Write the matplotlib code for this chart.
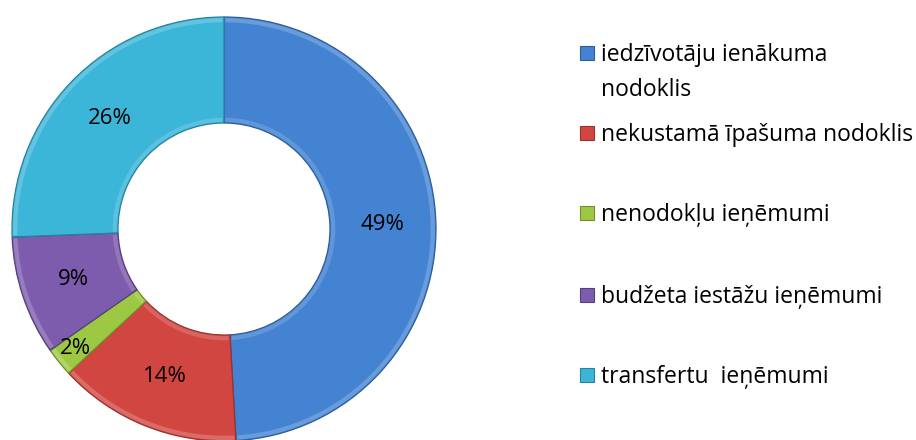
import numpy as np
import matplotlib.pyplot as plt
from matplotlib.patches import Rectangle, Wedge
from matplotlib.colors import to_rgb

plt.rcParams['font.family'] = ['Open Sans', 'DejaVu Sans']

labels = ['iedzīvotāju ienākuma\nnodoklis', 'nekustamā īpašuma nodoklis',
          'nenodokļu ieņēmumi', 'budžeta iestāžu ieņēmumi', 'transfertu  ieņēmumi']
shares = [49.1, 14.0, 2.2, 9.1, 25.6]
colors = ['#4383d2', '#d24641', '#9dc843', '#7d5cad', '#3bb5d8']
edges = ['#2e5d99', '#963330', '#6e8f2c', '#56407a', '#27819c']


def lighter(c, k=0.25):
    r = np.array(to_rgb(c))
    return tuple(r + (1 - r) * k)


fig = plt.figure(figsize=(9.16, 4.4), dpi=100)

# donut, centre at (224, 229) px, outer radius 212 px
ax = fig.add_axes([12 / 916, (440 - 229 - 212) / 440, 424 / 916, 424 / 440])
wedges, texts, autotexts = ax.pie(
    shares, colors=colors, startangle=90, counterclock=False, radius=1,
    autopct='%.0f%%', pctdistance=0.75,
    wedgeprops=dict(width=0.5, linewidth=0.9),
    textprops=dict(fontsize=16, color='black'))
for w, c, e in zip(wedges, colors, edges):
    w.set_edgecolor(e)
    # soft bevel: lighter bands along the outer and inner rim
    ax.add_patch(Wedge((0, 0), 0.995, w.theta1 + 0.4, w.theta2 - 0.4, width=0.02,
                       facecolor=lighter(c, 0.2), edgecolor='none', zorder=1.5))
    ax.add_patch(Wedge((0, 0), 0.525, w.theta1 + 0.8, w.theta2 - 0.8, width=0.02,
                       facecolor=lighter(c, 0.16), edgecolor='none', zorder=1.5))
for t in autotexts:
    t.set_zorder(3)

# the small slice label sits further out, as in the original
w = wedges[2]
mid = np.deg2rad((w.theta1 + w.theta2) / 2)
autotexts[2].set_position((0.9 * np.cos(mid), 0.9 * np.sin(mid)))

ax.set_xlim(-1, 1)
ax.set_ylim(-1, 1)
ax.set_aspect('equal')
ax.axis('off')

# legend, drawn in pixel coordinates
lg = fig.add_axes([0, 0, 1, 1])
lg.set_xlim(0, 916)
lg.set_ylim(440, 0)
lg.axis('off')
lg.patch.set_alpha(0)
rows = [53, 133, 213, 295, 375]
for lab, c, e, y in zip(labels, colors, edges, rows):
    lg.add_patch(Rectangle((580, y - 7), 14, 14, facecolor=c, edgecolor=e, lw=0.8))
    lg.text(601, y - 10, lab, fontsize=16.5, va='top', ha='left',
            linespacing=1.6)

fig.savefig('out.png', dpi=100)
